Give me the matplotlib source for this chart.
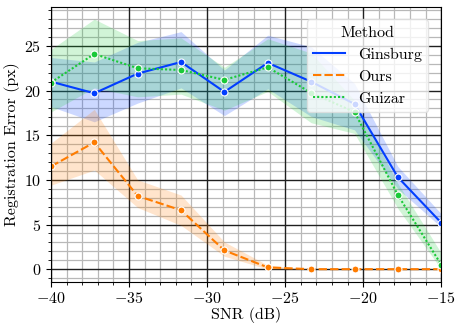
import numpy as np
import matplotlib
matplotlib.use("Agg")
import matplotlib.pyplot as plt
from matplotlib.lines import Line2D
from matplotlib.ticker import MultipleLocator

plt.rcParams['font.family'] = 'serif'
plt.rcParams['font.serif'] = ['cmr10']
plt.rcParams['mathtext.fontset'] = 'cm'
plt.rcParams['axes.formatter.use_mathtext'] = True

# SNR levels (dB)
snr = np.linspace(-40, -15, 10)

# mean registration error and band limits per method
ginsburg = [21.0, 19.7, 21.9, 23.2, 19.85, 23.1, 21.0, 18.5, 10.3, 5.2]
ginsburg_lo = [18.2, 16.5, 18.6, 20.3, 17.2, 20.2, 17.1, 15.6, 9.0, 4.7]
ginsburg_hi = [23.7, 23.2, 25.4, 26.6, 22.3, 26.2, 24.9, 20.8, 11.5, 6.2]

ours = [11.5, 14.2, 8.2, 6.6, 2.1, 0.2, 0.0, 0.0, 0.0, 0.0]
ours_lo = [9.4, 11.1, 6.9, 4.9, 1.45, 0.0, 0.0, 0.0, 0.0, 0.0]
ours_hi = [14.1, 17.9, 10.0, 8.3, 3.05, 0.45, 0.0, 0.0, 0.0, 0.0]

guizar = [20.9, 24.1, 22.5, 22.3, 21.2, 22.6, 19.75, 17.6, 8.3, 0.5]
guizar_lo = [17.6, 20.3, 19.3, 19.6, 17.8, 19.9, 16.4, 15.2, 6.8, 0.0]
guizar_hi = [24.6, 28.0, 25.6, 25.9, 22.6, 25.8, 24.2, 18.9, 9.6, 1.8]

methods = ['Ginsburg', 'Ours', 'Guizar']
colors = ['#023eff', '#ff7c00', '#1ac938']
styles = ['-', (0, (4, 1.5)), (0, (1, 1))]

FS = 11.5


def main():
    fig = plt.figure(figsize=(4.63, 3.31), dpi=100)
    ax = fig.add_axes([0.110, 0.149, 0.843, 0.831])

    series = [(ginsburg, ginsburg_lo, ginsburg_hi),
              (ours, ours_lo, ours_hi),
              (guizar, guizar_lo, guizar_hi)]
    handles = []
    for name, (m, lo, hi), c, ls in zip(methods, series, colors, styles):
        ax.fill_between(snr, lo, hi, color=c, alpha=0.2, linewidth=0)
        ax.plot(snr, m, color=c, linestyle=ls, linewidth=1.5, marker='o',
                markersize=5, markeredgecolor='white', markeredgewidth=0.8)
        handles.append(Line2D([], [], color=c, linestyle=ls, linewidth=1.5,
                              label=name))

    ax.set_xlim(-40, -15)
    ax.set_ylim(-1.4, 29.4)
    ax.xaxis.set_major_locator(MultipleLocator(5))
    ax.xaxis.set_minor_locator(MultipleLocator(1))
    ax.yaxis.set_major_locator(MultipleLocator(5))
    ax.yaxis.set_minor_locator(MultipleLocator(1))
    ax.set_axisbelow(True)
    ax.grid(which='minor', color='#b8b8b8', linewidth=0.9)
    # major lines on top of the minor grid, still under the data
    for t in ax.get_xticks():
        ax.axvline(t, color='#202020', linewidth=1.0, zorder=0.8)
    for t in ax.get_yticks():
        ax.axhline(t, color='#202020', linewidth=1.0, zorder=0.8)
    ax.set_xlim(-40, -15)
    ax.set_ylim(-1.4, 29.4)
    ax.tick_params(labelsize=FS)
    ax.tick_params(which='minor', length=2.5)
    ax.set_xlabel('SNR (dB)', fontsize=FS)
    ax.set_ylabel('Registration Error (px)', fontsize=FS)
    ax.xaxis.set_label_coords(0.5, -0.091)
    ax.yaxis.set_label_coords(-0.078, 0.5)

    leg = ax.legend(handles=handles, title='Method', loc='upper right',
                    fontsize=FS, title_fontsize=FS, framealpha=0.8,
                    borderaxespad=0.8)
    leg.get_frame().set_edgecolor('#dddddd')

    fig.savefig('out.png', dpi=100)


if __name__ == '__main__':
    main()
